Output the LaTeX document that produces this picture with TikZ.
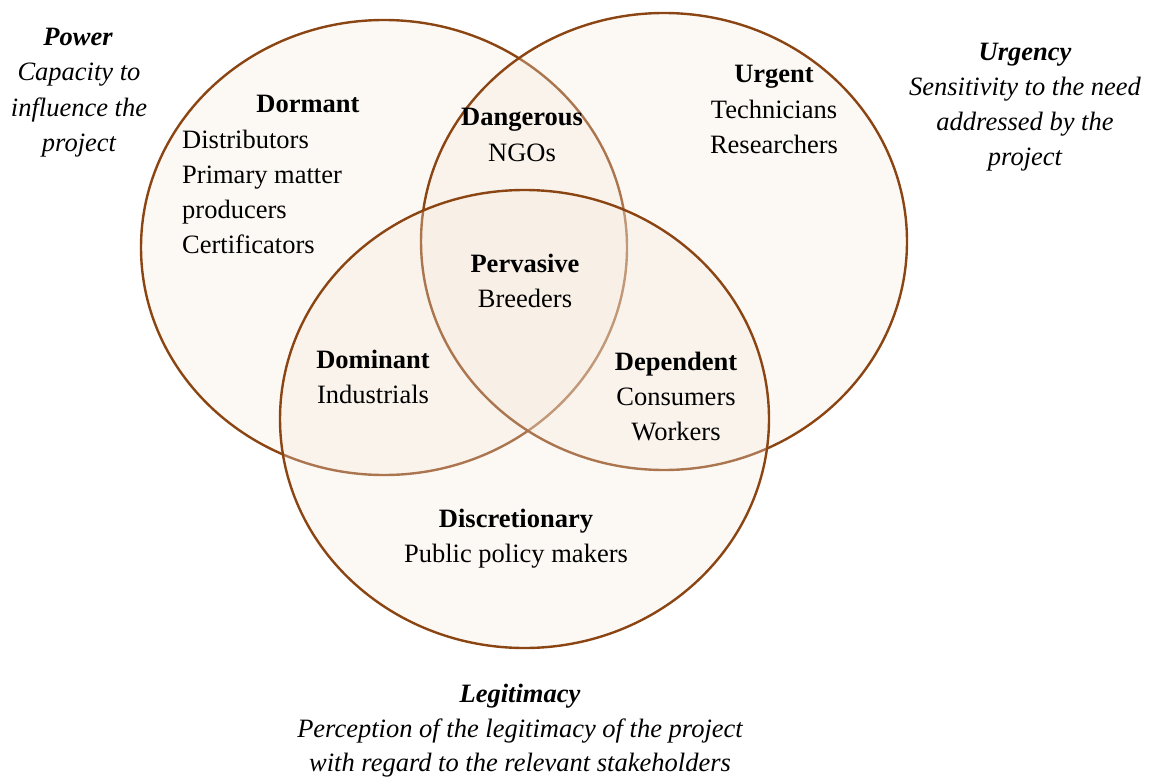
\documentclass[tikz,border=0pt]{standalone}
\usepackage{fontspec}
\setmainfont{Liberation Serif}
\definecolor{ringbrown}{RGB}{139,69,19}
\definecolor{ringfill}{RGB}{245,232,218}
\begin{document}
\begin{tikzpicture}[x=1pt,y=-1pt,
  ring/.style={draw=ringbrown, line width=2.4pt, fill=ringfill, fill opacity=0.3},
  lbl/.style={anchor=base, inner sep=0pt, font=\fontsize{26.5}{35}\selectfont},
  lleft/.style={lbl, anchor=base west},
  hd/.style={lbl, font=\fontsize{26.5}{35}\selectfont\bfseries},
  ttl/.style={lbl, font=\fontsize{26.5}{35}\selectfont\bfseries\itshape},
  sub/.style={lbl, font=\fontsize{26.5}{35}\selectfont\itshape}]
\useasboundingbox (0,0) rectangle (1153,776);
% circles
\draw[ring] (384,247.5) ellipse [x radius=243, y radius=227.5];
\draw[ring] (664,241.5) ellipse [x radius=243, y radius=228.5];
\draw[ring] (524.5,419) ellipse [x radius=244.5, y radius=229];
% outer titles
\node[ttl] (powT) at (78,46) {Power};
\node[sub] (pow1) at (79,81) {Capacity to};
\node[sub] (pow2) at (79,116) {influence the};
\node[sub] (pow3) at (79,151) {project};
\node[ttl] (urgT) at (1025,60) {Urgency};
\node[sub] (urg1) at (1025,95) {Sensitivity to the need};
\node[sub] (urg2) at (1025,130) {addressed by the};
\node[sub] (urg3) at (1025,165) {project};
\node[ttl] (legT) at (520,702) {Legitimacy};
\node[sub] (leg1) at (520,737) {Perception of the legitimacy of the project};
\node[sub] (leg2) at (520,771) {with regard to the relevant stakeholders};
% regions
\node[hd] (dorm) at (308,112) {Dormant};
\node[lleft] (dorm1) at (182,148) {Distributors};
\node[lleft] (dorm2) at (182,183) {Primary matter};
\node[lleft] (dorm3) at (182,218) {producers};
\node[lleft] (dorm4) at (182,253) {Certificators};
\node[hd] (dang) at (522,125) {Dangerous};
\node[lbl] (dang1) at (522,161) {NGOs};
\node[hd] (urgt) at (774,82) {Urgent};
\node[lbl] (urgt1) at (774,118) {Technicians};
\node[lbl] (urgt2) at (774,153) {Researchers};
\node[hd] (perv) at (525,272) {Pervasive};
\node[lbl] (perv1) at (525,307) {Breeders};
\node[hd] (domi) at (373,368) {Dominant};
\node[lbl] (domi1) at (373,403) {Industrials};
\node[hd] (depe) at (676,370) {Dependent};
\node[lbl] (depe1) at (676,405) {Consumers};
\node[lbl] (depe2) at (676,440) {Workers};
\node[hd] (disc) at (516,527) {Discretionary};
\node[lbl] (disc1) at (516,562) {Public policy makers};
\end{tikzpicture}
\end{document}
